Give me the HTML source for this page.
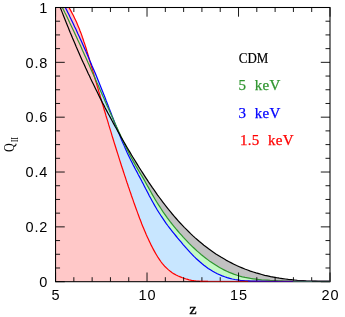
<!DOCTYPE html>
<html lang="en"><head><meta charset="utf-8"><title>Q_II vs z</title>
<style>html,body{margin:0;padding:0;background:#fff;font-family:"Liberation Sans",sans-serif;}svg{display:block;will-change:transform;}</style></head>
<body>
<svg width="345" height="317" viewBox="0 0 345 317">
<rect width="345" height="317" fill="#ffffff"/>
<!-- shaded regions under each reionization history -->
<g stroke="none">
<path fill="#c1c1c1" d="M55.5,281.7 L55.5,7.5 L60.2,7.5 61.3,10.1 62.4,12.9 63.5,15.7 64.6,18.5 65.7,21.3 66.8,24.1 68,26.9 69.1,29.7 70.2,32.5 71.4,35.2 72.5,38 73.7,40.8 74.9,43.5 76,46.3 77.2,49 78.4,51.7 79.6,54.5 80.8,57.2 82,59.9 83.2,62.6 84.5,65.3 85.7,68 87,70.7 88.2,73.4 89.5,76.1 90.7,78.8 92,81.5 93.3,84.1 94.6,86.8 95.9,89.5 97.2,92.1 98.5,94.8 99.8,97.4 101.2,100.1 102.5,102.7 103.9,105.3 105.2,108 106.6,110.6 108,113.2 109.4,115.8 110.8,118.4 112.2,121 113.6,123.6 115,126.2 116.5,128.8 117.9,131.4 119.4,134 120.8,136.6 122.3,139.2 123.8,141.8 125.3,144.4 126.8,147 128.3,149.5 129.9,152.1 131.4,154.7 132.9,157.2 134.5,159.8 136.1,162.4 137.6,164.9 139.2,167.5 140.8,170 142.5,172.6 144.1,175.1 145.7,177.6 147.4,180.2 149,182.7 150.7,185.2 152.4,187.7 154.2,190.1 155.9,192.6 157.6,195.1 159.4,197.5 161.2,199.9 163,202.3 164.8,204.7 166.7,207.1 168.5,209.4 170.4,211.7 172.3,214 174.3,216.3 176.2,218.5 178.2,220.8 180.2,223 182.2,225.1 184.3,227.3 186.4,229.4 188.5,231.5 190.6,233.6 192.7,235.6 194.9,237.6 197.1,239.5 199.4,241.5 201.6,243.3 203.9,245.2 206.3,247 208.6,248.8 211,250.5 213.4,252.2 215.9,253.9 218.4,255.5 220.9,257.1 223.5,258.6 226,260.1 228.6,261.5 231.3,262.9 233.9,264.2 236.6,265.5 239.3,266.7 242.1,267.9 244.8,269 247.6,270 250.4,271.1 253.2,272 256.1,272.9 258.9,273.7 261.8,274.5 264.7,275.3 267.6,275.9 270.6,276.6 273.5,277.1 276.5,277.7 279.4,278.2 282.4,278.6 285.4,279 288.3,279.4 291.3,279.7 294.3,280 297.3,280.3 300.3,280.5 303.3,280.7 306.3,280.9 309.3,281 312.2,281.1 315.2,281.2 318.2,281.3 321.1,281.4 324.1,281.4 327,281.4 329.9,281.4 L329.9,281.7 Z"/>
<path fill="#c4fac4" d="M55.5,281.7 L55.5,7.5 L62.4,7.5 63.6,10 64.8,12.5 66.1,15 67.3,17.5 68.5,20 69.6,22.5 70.8,25 72,27.5 73.2,30 74.4,32.5 75.5,35 76.7,37.6 77.8,40.1 79,42.6 80.2,45.1 81.3,47.6 82.4,50.2 83.6,52.7 84.7,55.2 85.9,57.8 87,60.3 88.1,62.8 89.3,65.3 90.4,67.9 91.5,70.4 92.6,73 93.8,75.5 94.9,78 96,80.6 97.1,83.1 98.3,85.6 99.4,88.2 100.5,90.7 101.6,93.3 102.7,95.8 103.9,98.3 105,100.9 106.1,103.4 107.2,105.9 108.4,108.5 109.5,111 110.6,113.6 111.8,116.1 112.9,118.6 114,121.2 115.2,123.7 116.3,126.2 117.5,128.7 118.6,131.3 119.8,133.8 120.9,136.3 122.1,138.8 123.2,141.3 124.4,143.9 125.6,146.4 126.8,148.8 128.1,151.3 129.3,153.8 130.6,156.3 131.9,158.7 133.2,161.1 134.6,163.6 135.9,166 137.3,168.4 138.7,170.8 140.1,173.1 141.6,175.5 143,177.9 144.4,180.3 145.7,182.7 147.1,185.2 148.5,187.6 149.8,190 151.2,192.5 152.5,194.9 153.9,197.3 155.3,199.7 156.7,202 158.2,204.4 159.7,206.7 161.2,209 162.7,211.3 164.3,213.6 165.9,215.8 167.5,218.1 169.2,220.3 170.8,222.5 172.5,224.6 174.3,226.8 176,228.9 177.8,231 179.6,233.1 181.5,235.2 183.4,237.3 185.3,239.3 187.2,241.3 189.1,243.3 191.1,245.3 193.1,247.3 195.2,249.2 197.2,251.1 199.3,252.9 201.4,254.7 203.6,256.5 205.8,258.2 208,259.9 210.2,261.6 212.5,263.1 214.8,264.6 217.2,266.1 219.5,267.5 221.9,268.8 224.4,270.1 226.8,271.3 229.3,272.4 231.9,273.4 234.4,274.4 237.1,275.3 239.7,276.1 242.4,276.8 245.1,277.4 247.8,277.9 250.5,278.4 253.3,278.8 256.1,279.2 258.9,279.5 261.7,279.8 264.5,280 267.3,280.2 270.1,280.4 272.9,280.5 275.7,280.6 278.5,280.8 281.3,280.9 284.1,281 286.8,281.1 289.5,281.2 292.2,281.4 294.9,281.4 L294.9,281.7 Z"/>
<path fill="#c8e6ff" d="M55.5,281.7 L55.5,7.5 L65.3,7.5 66.5,9.8 67.7,12.2 68.9,14.6 70,17 71.2,19.4 72.3,21.8 73.5,24.3 74.6,26.7 75.8,29.1 76.9,31.5 78,34 79.2,36.4 80.3,38.9 81.4,41.3 82.5,43.7 83.6,46.2 84.7,48.7 85.8,51.1 86.8,53.6 87.9,56 89,58.5 90,61 91.1,63.4 92.1,65.9 93.2,68.4 94.2,70.8 95.3,73.3 96.3,75.8 97.3,78.3 98.3,80.8 99.3,83.3 100.3,85.8 101.3,88.2 102.3,90.7 103.3,93.2 104.3,95.7 105.3,98.2 106.2,100.7 107.2,103.2 108.2,105.8 109.1,108.3 110.1,110.8 111.1,113.3 112,115.8 113,118.3 114,120.8 114.9,123.3 115.9,125.8 116.9,128.3 117.9,130.8 118.9,133.3 119.9,135.8 120.9,138.2 121.9,140.7 123,143.2 124.1,145.6 125.1,148.1 126.2,150.5 127.3,153 128.5,155.4 129.6,157.8 130.8,160.2 132,162.6 133.2,165 134.5,167.4 135.7,169.8 137,172.1 138.2,174.5 139.5,176.9 140.8,179.2 142,181.6 143.3,184 144.5,186.4 145.7,188.8 147,191.2 148.2,193.6 149.4,196 150.7,198.3 152,200.7 153.3,203 154.6,205.4 156,207.7 157.3,210 158.7,212.2 160.2,214.5 161.6,216.7 163.1,218.9 164.6,221.1 166.1,223.3 167.7,225.5 169.3,227.6 170.9,229.7 172.6,231.8 174.3,233.9 176,236 177.7,238.1 179.4,240.1 181.2,242.2 182.9,244.3 184.7,246.3 186.5,248.4 188.3,250.4 190.1,252.4 192,254.3 193.9,256.3 195.8,258.2 197.8,260 199.8,261.8 201.8,263.5 203.9,265.2 206,266.8 208.2,268.4 210.4,269.8 212.7,271.2 215,272.5 217.3,273.7 219.7,274.8 222.2,275.9 224.7,276.8 227.2,277.6 229.7,278.3 232.3,279 234.9,279.5 237.6,279.9 240.3,280.3 243,280.5 245.7,280.8 248.4,280.9 251.1,281 253.9,281.1 256.6,281.2 259.3,281.2 262,281.2 264.7,281.2 267.4,281.2 270.1,281.3 272.7,281.3 275.3,281.4 277.9,281.4 L277.9,281.7 Z"/>
<path fill="#ffc8c8" d="M55.5,281.7 L55.5,7.5 L69,7.5 70.2,9.6 71.3,11.6 72.4,13.7 73.5,15.8 74.5,17.9 75.5,20 76.5,22.1 77.4,24.2 78.3,26.4 79.2,28.5 80,30.7 80.9,32.9 81.7,35.1 82.4,37.3 83.2,39.5 83.9,41.7 84.7,43.9 85.4,46.1 86.1,48.3 86.8,50.6 87.4,52.8 88.1,55 88.8,57.3 89.4,59.5 90.1,61.7 90.7,64 91.4,66.2 92.1,68.5 92.7,70.7 93.4,72.9 94,75.2 94.7,77.4 95.3,79.7 96,81.9 96.7,84.1 97.3,86.4 98,88.6 98.6,90.9 99.3,93.1 100,95.3 100.6,97.6 101.3,99.8 101.9,102.1 102.6,104.3 103.3,106.5 103.9,108.8 104.6,111 105.3,113.2 105.9,115.5 106.6,117.7 107.3,119.9 108,122.2 108.6,124.4 109.3,126.7 110,128.9 110.7,131.1 111.4,133.4 112,135.6 112.7,137.8 113.4,140 114.1,142.3 114.8,144.5 115.5,146.7 116.2,149 116.9,151.2 117.6,153.4 118.3,155.6 119,157.9 119.7,160.1 120.4,162.3 121.1,164.5 121.8,166.8 122.6,169 123.3,171.2 124,173.4 124.7,175.6 125.5,177.8 126.2,180.1 126.9,182.3 127.7,184.5 128.4,186.7 129.2,188.9 129.9,191.1 130.7,193.3 131.4,195.5 132.2,197.7 133,199.9 133.7,202.1 134.5,204.3 135.3,206.5 136.1,208.7 136.9,210.9 137.7,213.1 138.5,215.3 139.3,217.5 140.1,219.6 141,221.8 141.8,224 142.7,226.2 143.6,228.3 144.5,230.5 145.4,232.6 146.3,234.8 147.3,236.9 148.3,239 149.3,241.2 150.3,243.3 151.3,245.4 152.4,247.5 153.5,249.6 154.6,251.6 155.8,253.7 157,255.7 158.2,257.7 159.5,259.6 160.8,261.5 162.2,263.4 163.7,265.1 165.2,266.8 166.9,268.4 168.5,269.9 170.3,271.3 172.2,272.7 174.1,273.9 176.1,275 178.2,276 180.3,276.9 182.5,277.8 184.7,278.5 186.9,279.2 189.2,279.8 191.6,280.3 193.9,280.7 196.3,281 198.6,281.2 201,281.4 203.4,281.4 205.8,281.4 208.1,281.4 L208.1,281.7 Z"/>
</g>
<!-- curves: 1.5 keV, 3 keV, 5 keV, CDM -->
<g fill="none" stroke-width="1.2" stroke-linejoin="round">
<path stroke="#ff0000" d="M55.5,7.5 L69,7.5 70.2,9.6 71.3,11.6 72.4,13.7 73.5,15.8 74.5,17.9 75.5,20 76.5,22.1 77.4,24.2 78.3,26.4 79.2,28.5 80,30.7 80.9,32.9 81.7,35.1 82.4,37.3 83.2,39.5 83.9,41.7 84.7,43.9 85.4,46.1 86.1,48.3 86.8,50.6 87.4,52.8 88.1,55 88.8,57.3 89.4,59.5 90.1,61.7 90.7,64 91.4,66.2 92.1,68.5 92.7,70.7 93.4,72.9 94,75.2 94.7,77.4 95.3,79.7 96,81.9 96.7,84.1 97.3,86.4 98,88.6 98.6,90.9 99.3,93.1 100,95.3 100.6,97.6 101.3,99.8 101.9,102.1 102.6,104.3 103.3,106.5 103.9,108.8 104.6,111 105.3,113.2 105.9,115.5 106.6,117.7 107.3,119.9 108,122.2 108.6,124.4 109.3,126.7 110,128.9 110.7,131.1 111.4,133.4 112,135.6 112.7,137.8 113.4,140 114.1,142.3 114.8,144.5 115.5,146.7 116.2,149 116.9,151.2 117.6,153.4 118.3,155.6 119,157.9 119.7,160.1 120.4,162.3 121.1,164.5 121.8,166.8 122.6,169 123.3,171.2 124,173.4 124.7,175.6 125.5,177.8 126.2,180.1 126.9,182.3 127.7,184.5 128.4,186.7 129.2,188.9 129.9,191.1 130.7,193.3 131.4,195.5 132.2,197.7 133,199.9 133.7,202.1 134.5,204.3 135.3,206.5 136.1,208.7 136.9,210.9 137.7,213.1 138.5,215.3 139.3,217.5 140.1,219.6 141,221.8 141.8,224 142.7,226.2 143.6,228.3 144.5,230.5 145.4,232.6 146.3,234.8 147.3,236.9 148.3,239 149.3,241.2 150.3,243.3 151.3,245.4 152.4,247.5 153.5,249.6 154.6,251.6 155.8,253.7 157,255.7 158.2,257.7 159.5,259.6 160.8,261.5 162.2,263.4 163.7,265.1 165.2,266.8 166.9,268.4 168.5,269.9 170.3,271.3 172.2,272.7 174.1,273.9 176.1,275 178.2,276 180.3,276.9 182.5,277.8 184.7,278.5 186.9,279.2 189.2,279.8 191.6,280.3 193.9,280.7 196.3,281 198.6,281.2 201,281.4 203.4,281.4 205.8,281.4 208.1,281.4"/>
<path stroke="#0000ff" d="M55.5,7.5 L65.3,7.5 66.5,9.8 67.7,12.2 68.9,14.6 70,17 71.2,19.4 72.3,21.8 73.5,24.3 74.6,26.7 75.8,29.1 76.9,31.5 78,34 79.2,36.4 80.3,38.9 81.4,41.3 82.5,43.7 83.6,46.2 84.7,48.7 85.8,51.1 86.8,53.6 87.9,56 89,58.5 90,61 91.1,63.4 92.1,65.9 93.2,68.4 94.2,70.8 95.3,73.3 96.3,75.8 97.3,78.3 98.3,80.8 99.3,83.3 100.3,85.8 101.3,88.2 102.3,90.7 103.3,93.2 104.3,95.7 105.3,98.2 106.2,100.7 107.2,103.2 108.2,105.8 109.1,108.3 110.1,110.8 111.1,113.3 112,115.8 113,118.3 114,120.8 114.9,123.3 115.9,125.8 116.9,128.3 117.9,130.8 118.9,133.3 119.9,135.8 120.9,138.2 121.9,140.7 123,143.2 124.1,145.6 125.1,148.1 126.2,150.5 127.3,153 128.5,155.4 129.6,157.8 130.8,160.2 132,162.6 133.2,165 134.5,167.4 135.7,169.8 137,172.1 138.2,174.5 139.5,176.9 140.8,179.2 142,181.6 143.3,184 144.5,186.4 145.7,188.8 147,191.2 148.2,193.6 149.4,196 150.7,198.3 152,200.7 153.3,203 154.6,205.4 156,207.7 157.3,210 158.7,212.2 160.2,214.5 161.6,216.7 163.1,218.9 164.6,221.1 166.1,223.3 167.7,225.5 169.3,227.6 170.9,229.7 172.6,231.8 174.3,233.9 176,236 177.7,238.1 179.4,240.1 181.2,242.2 182.9,244.3 184.7,246.3 186.5,248.4 188.3,250.4 190.1,252.4 192,254.3 193.9,256.3 195.8,258.2 197.8,260 199.8,261.8 201.8,263.5 203.9,265.2 206,266.8 208.2,268.4 210.4,269.8 212.7,271.2 215,272.5 217.3,273.7 219.7,274.8 222.2,275.9 224.7,276.8 227.2,277.6 229.7,278.3 232.3,279 234.9,279.5 237.6,279.9 240.3,280.3 243,280.5 245.7,280.8 248.4,280.9 251.1,281 253.9,281.1 256.6,281.2 259.3,281.2 262,281.2 264.7,281.2 267.4,281.2 270.1,281.3 272.7,281.3 275.3,281.4 277.9,281.4"/>
<path stroke="#2f952f" d="M55.5,7.5 L62.4,7.5 63.6,10 64.8,12.5 66.1,15 67.3,17.5 68.5,20 69.6,22.5 70.8,25 72,27.5 73.2,30 74.4,32.5 75.5,35 76.7,37.6 77.8,40.1 79,42.6 80.2,45.1 81.3,47.6 82.4,50.2 83.6,52.7 84.7,55.2 85.9,57.8 87,60.3 88.1,62.8 89.3,65.3 90.4,67.9 91.5,70.4 92.6,73 93.8,75.5 94.9,78 96,80.6 97.1,83.1 98.3,85.6 99.4,88.2 100.5,90.7 101.6,93.3 102.7,95.8 103.9,98.3 105,100.9 106.1,103.4 107.2,105.9 108.4,108.5 109.5,111 110.6,113.6 111.8,116.1 112.9,118.6 114,121.2 115.2,123.7 116.3,126.2 117.5,128.7 118.6,131.3 119.8,133.8 120.9,136.3 122.1,138.8 123.2,141.3 124.4,143.9 125.6,146.4 126.8,148.8 128.1,151.3 129.3,153.8 130.6,156.3 131.9,158.7 133.2,161.1 134.6,163.6 135.9,166 137.3,168.4 138.7,170.8 140.1,173.1 141.6,175.5 143,177.9 144.4,180.3 145.7,182.7 147.1,185.2 148.5,187.6 149.8,190 151.2,192.5 152.5,194.9 153.9,197.3 155.3,199.7 156.7,202 158.2,204.4 159.7,206.7 161.2,209 162.7,211.3 164.3,213.6 165.9,215.8 167.5,218.1 169.2,220.3 170.8,222.5 172.5,224.6 174.3,226.8 176,228.9 177.8,231 179.6,233.1 181.5,235.2 183.4,237.3 185.3,239.3 187.2,241.3 189.1,243.3 191.1,245.3 193.1,247.3 195.2,249.2 197.2,251.1 199.3,252.9 201.4,254.7 203.6,256.5 205.8,258.2 208,259.9 210.2,261.6 212.5,263.1 214.8,264.6 217.2,266.1 219.5,267.5 221.9,268.8 224.4,270.1 226.8,271.3 229.3,272.4 231.9,273.4 234.4,274.4 237.1,275.3 239.7,276.1 242.4,276.8 245.1,277.4 247.8,277.9 250.5,278.4 253.3,278.8 256.1,279.2 258.9,279.5 261.7,279.8 264.5,280 267.3,280.2 270.1,280.4 272.9,280.5 275.7,280.6 278.5,280.8 281.3,280.9 284.1,281 286.8,281.1 289.5,281.2 292.2,281.4 294.9,281.4"/>
<path stroke="#000000" d="M55.5,7.5 L60.2,7.5 61.3,10.1 62.4,12.9 63.5,15.7 64.6,18.5 65.7,21.3 66.8,24.1 68,26.9 69.1,29.7 70.2,32.5 71.4,35.2 72.5,38 73.7,40.8 74.9,43.5 76,46.3 77.2,49 78.4,51.7 79.6,54.5 80.8,57.2 82,59.9 83.2,62.6 84.5,65.3 85.7,68 87,70.7 88.2,73.4 89.5,76.1 90.7,78.8 92,81.5 93.3,84.1 94.6,86.8 95.9,89.5 97.2,92.1 98.5,94.8 99.8,97.4 101.2,100.1 102.5,102.7 103.9,105.3 105.2,108 106.6,110.6 108,113.2 109.4,115.8 110.8,118.4 112.2,121 113.6,123.6 115,126.2 116.5,128.8 117.9,131.4 119.4,134 120.8,136.6 122.3,139.2 123.8,141.8 125.3,144.4 126.8,147 128.3,149.5 129.9,152.1 131.4,154.7 132.9,157.2 134.5,159.8 136.1,162.4 137.6,164.9 139.2,167.5 140.8,170 142.5,172.6 144.1,175.1 145.7,177.6 147.4,180.2 149,182.7 150.7,185.2 152.4,187.7 154.2,190.1 155.9,192.6 157.6,195.1 159.4,197.5 161.2,199.9 163,202.3 164.8,204.7 166.7,207.1 168.5,209.4 170.4,211.7 172.3,214 174.3,216.3 176.2,218.5 178.2,220.8 180.2,223 182.2,225.1 184.3,227.3 186.4,229.4 188.5,231.5 190.6,233.6 192.7,235.6 194.9,237.6 197.1,239.5 199.4,241.5 201.6,243.3 203.9,245.2 206.3,247 208.6,248.8 211,250.5 213.4,252.2 215.9,253.9 218.4,255.5 220.9,257.1 223.5,258.6 226,260.1 228.6,261.5 231.3,262.9 233.9,264.2 236.6,265.5 239.3,266.7 242.1,267.9 244.8,269 247.6,270 250.4,271.1 253.2,272 256.1,272.9 258.9,273.7 261.8,274.5 264.7,275.3 267.6,275.9 270.6,276.6 273.5,277.1 276.5,277.7 279.4,278.2 282.4,278.6 285.4,279 288.3,279.4 291.3,279.7 294.3,280 297.3,280.3 300.3,280.5 303.3,280.7 306.3,280.9 309.3,281 312.2,281.1 315.2,281.2 318.2,281.3 321.1,281.4 324.1,281.4 327,281.4 329.9,281.4"/>
</g>
<!-- axes box and tick marks -->
<rect x="55.55" y="7.5" width="274.45" height="274.20" fill="none" stroke="#000" stroke-width="1.05"/>
<path d="M55.55,281.7v-9.2M55.55,7.5v9.2M73.85,281.7v-4.5M73.85,7.5v4.5M92.14,281.7v-4.5M92.14,7.5v4.5M110.44,281.7v-4.5M110.44,7.5v4.5M128.74,281.7v-4.5M128.74,7.5v4.5M147.03,281.7v-9.2M147.03,7.5v9.2M165.33,281.7v-4.5M165.33,7.5v4.5M183.63,281.7v-4.5M183.63,7.5v4.5M201.92,281.7v-4.5M201.92,7.5v4.5M220.22,281.7v-4.5M220.22,7.5v4.5M238.52,281.7v-9.2M238.52,7.5v9.2M256.81,281.7v-4.5M256.81,7.5v4.5M275.11,281.7v-4.5M275.11,7.5v4.5M293.41,281.7v-4.5M293.41,7.5v4.5M311.70,281.7v-4.5M311.70,7.5v4.5M330.00,281.7v-9.2M330.00,7.5v9.2M55.55,281.70h9.2M330.0,281.70h-9.2M55.55,267.99h4.5M330.0,267.99h-4.5M55.55,254.28h4.5M330.0,254.28h-4.5M55.55,240.57h4.5M330.0,240.57h-4.5M55.55,226.86h9.2M330.0,226.86h-9.2M55.55,213.15h4.5M330.0,213.15h-4.5M55.55,199.44h4.5M330.0,199.44h-4.5M55.55,185.73h4.5M330.0,185.73h-4.5M55.55,172.02h9.2M330.0,172.02h-9.2M55.55,158.31h4.5M330.0,158.31h-4.5M55.55,144.60h4.5M330.0,144.60h-4.5M55.55,130.89h4.5M330.0,130.89h-4.5M55.55,117.18h9.2M330.0,117.18h-9.2M55.55,103.47h4.5M330.0,103.47h-4.5M55.55,89.76h4.5M330.0,89.76h-4.5M55.55,76.05h4.5M330.0,76.05h-4.5M55.55,62.34h9.2M330.0,62.34h-9.2M55.55,48.63h4.5M330.0,48.63h-4.5M55.55,34.92h4.5M330.0,34.92h-4.5M55.55,21.21h4.5M330.0,21.21h-4.5M55.55,7.50h9.2M330.0,7.50h-9.2" stroke="#000" stroke-width="0.9" fill="none"/>
<g fill="none" stroke-width="1.3">
<path stroke="#ff0000" opacity="0.55" d="M200,281.4 H330"/>
<path stroke="#0000ff" opacity="0.55" d="M248,281.4 H330"/>
<path stroke="#2f952f" opacity="0.6" d="M293,281.4 H330"/>
<path stroke="#000000" opacity="0.5" d="M312,281.4 H330"/>
</g>
<!-- tick labels -->
<text x="56.00" y="299.8" style="font-family:'Liberation Sans',sans-serif" font-size="14.5" text-anchor="middle" fill="#000" letter-spacing="0.9">5</text>
<text x="147.48" y="299.8" style="font-family:'Liberation Sans',sans-serif" font-size="14.5" text-anchor="middle" fill="#000" letter-spacing="0.9">10</text>
<text x="238.97" y="299.8" style="font-family:'Liberation Sans',sans-serif" font-size="14.5" text-anchor="middle" fill="#000" letter-spacing="0.9">15</text>
<text x="330.45" y="299.8" style="font-family:'Liberation Sans',sans-serif" font-size="14.5" text-anchor="middle" fill="#000" letter-spacing="0.9">20</text>
<text x="48.3" y="286.90" style="font-family:'Liberation Sans',sans-serif" font-size="14.5" text-anchor="end" fill="#000" letter-spacing="0.9">0</text>
<text x="48.3" y="232.06" style="font-family:'Liberation Sans',sans-serif" font-size="14.5" text-anchor="end" fill="#000" letter-spacing="0.9">0.2</text>
<text x="48.3" y="177.22" style="font-family:'Liberation Sans',sans-serif" font-size="14.5" text-anchor="end" fill="#000" letter-spacing="0.9">0.4</text>
<text x="48.3" y="122.38" style="font-family:'Liberation Sans',sans-serif" font-size="14.5" text-anchor="end" fill="#000" letter-spacing="0.9">0.6</text>
<text x="48.3" y="67.54" style="font-family:'Liberation Sans',sans-serif" font-size="14.5" text-anchor="end" fill="#000" letter-spacing="0.9">0.8</text>
<text x="48.3" y="12.70" style="font-family:'Liberation Sans',sans-serif" font-size="14.5" text-anchor="end" fill="#000" letter-spacing="0.9">1</text>
<!-- axis titles -->
<text x="193.0" y="313.8" style="font-family:'Liberation Serif',serif" font-size="15.5" text-anchor="middle" fill="#000" stroke="#000" stroke-width="0.3" textLength="7.4" lengthAdjust="spacingAndGlyphs">z</text>
<g transform="translate(14.1,152) rotate(-90)" style="font-family:'Liberation Serif',serif" fill="#000"><text x="0" y="0" font-size="15.5" textLength="8.8" lengthAdjust="spacingAndGlyphs">Q</text><text x="10" y="4" font-size="10" textLength="4.8" lengthAdjust="spacingAndGlyphs">II</text></g>
<!-- legend -->
<text x="238.8" y="62.8" style="font-family:'Liberation Serif',serif" font-size="15" text-anchor="start" fill="#000" textLength="29.5" lengthAdjust="spacingAndGlyphs" stroke="#000" stroke-width="0.2">CDM</text>
<text x="238.6" y="90.2" style="font-family:'Liberation Serif',serif" font-size="15" text-anchor="start" fill="#2f952f" letter-spacing="0.3" word-spacing="4.2" stroke="#2f952f" stroke-width="0.25">5 keV</text>
<text x="238.6" y="117.5" style="font-family:'Liberation Serif',serif" font-size="15" text-anchor="start" fill="#0000ff" letter-spacing="0.3" word-spacing="4.2" stroke="#0000ff" stroke-width="0.25">3 keV</text>
<text x="240.0" y="145.2" style="font-family:'Liberation Serif',serif" font-size="15" text-anchor="start" fill="#ff0000" letter-spacing="0.3" word-spacing="4.2" stroke="#ff0000" stroke-width="0.25">1.5 keV</text>
</svg>
</body></html>
